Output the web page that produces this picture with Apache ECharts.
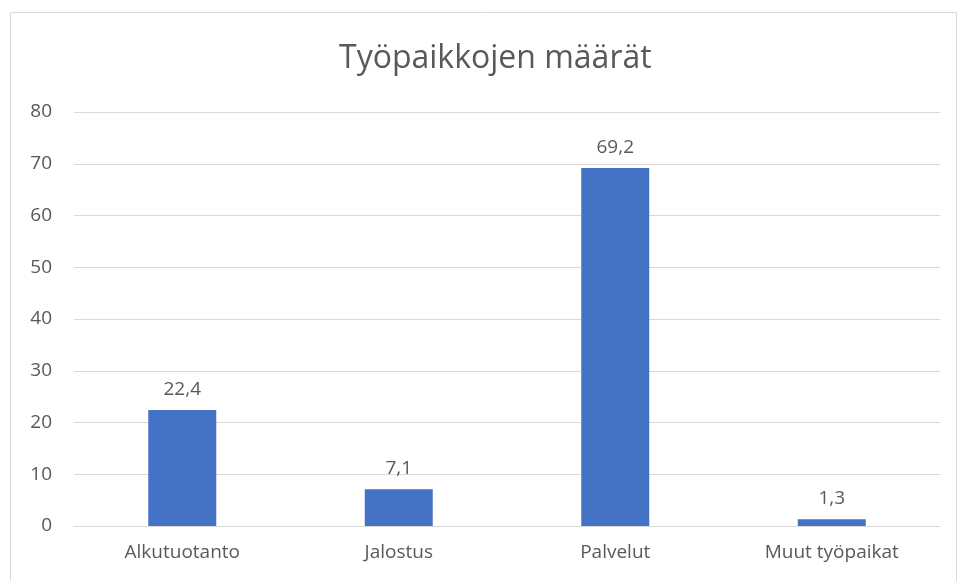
<!DOCTYPE html>
<html>
<head>
<meta charset="utf-8">
<script src="https://cdn.jsdelivr.net/npm/echarts@6/dist/echarts.min.js"></script>
<style>
html, body { margin: 0; padding: 0; background: #fff; }
#chart { width: 958px; height: 581px; }
</style>
</head>
<body>
<div id="chart"></div>
<script>
// tiedot kuvasta
const categories = ['Alkutuotanto', 'Jalostus', 'Palvelut', 'Muut työpaikat'];
const values = [22.4, 7.1, 69.2, 1.3];

const font = '"Open Sans", "Liberation Sans", sans-serif';
const textColor = '#595959';

const chart = echarts.init(document.getElementById('chart'));
chart.setOption({
    animation: false,
    backgroundColor: '#fff',
    textStyle: { fontFamily: font },
    title: {
        text: 'Työpaikkojen määrät',
        left: 334,
        top: 38,
        textStyle: { fontFamily: font, fontSize: 32, fontWeight: 'normal', color: textColor }
    },
    graphic: [{
        type: 'rect',
        shape: { x: 10.5, y: 12.5, width: 946, height: 600 },
        style: { fill: 'none', stroke: '#d9d9d9', lineWidth: 1 },
        silent: true
    }],
    grid: { left: 74, right: 18, top: 112, bottom: 55 },
    xAxis: {
        type: 'category',
        data: categories,
        axisLine: { lineStyle: { color: '#d9d9d9' } },
        axisTick: { show: false },
        axisLabel: { color: textColor, fontSize: 19, margin: 17, fontFamily: font }
    },
    yAxis: {
        type: 'value',
        min: 0,
        max: 80,
        interval: 10,
        axisLine: { show: false },
        axisTick: { show: false },
        axisLabel: { color: textColor, fontSize: 19, margin: 22, fontFamily: font },
        splitLine: { lineStyle: { color: '#d9d9d9' } }
    },
    series: [{
        type: 'bar',
        data: values,
        barWidth: 68,
        itemStyle: { color: '#4472C4' },
        label: {
            show: true,
            position: 'top',
            distance: 11,
            color: textColor,
            fontSize: 19,
            fontFamily: font,
            formatter: (p) => String(p.value).replace('.', ',')
        }
    }]
});
</script>
</body>
</html>
